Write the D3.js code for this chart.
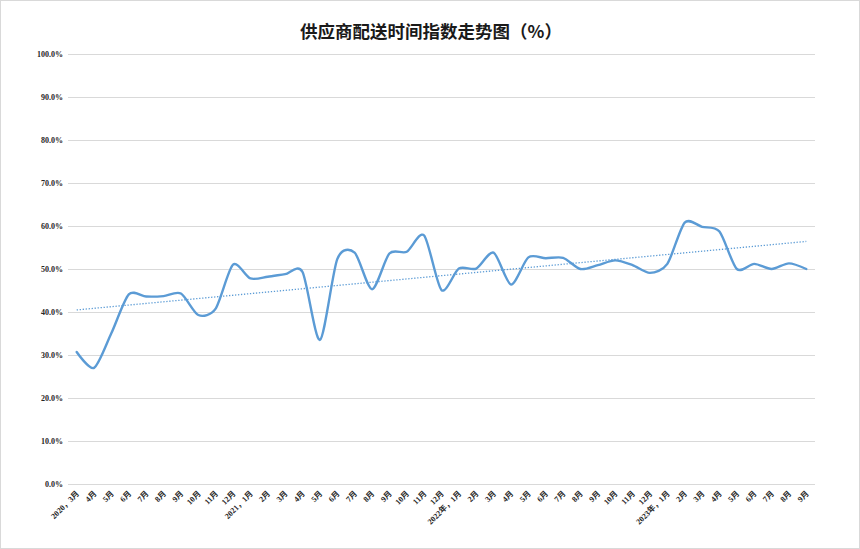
<!DOCTYPE html>
<html><head><meta charset="utf-8">
<script src="https://cdn.jsdelivr.net/npm/d3@7"></script>
<style>body{margin:0;background:#fff}svg{display:block}</style>
</head><body>
<svg id="chart" width="860" height="549"></svg>
<script>
const title = "供应商配送时间指数走势图（%）";
const categories = ["2020，3月","4月","5月","6月","7月","8月","9月","10月","11月","12月",
  "2021，1月","2月","3月","4月","5月","6月","7月","8月","9月","10月","11月","12月",
  "2022年，1月","2月","3月","4月","5月","6月","7月","8月","9月","10月","11月","12月",
  "2023年，1月","2月","3月","4月","5月","6月","7月","8月","9月"];
const values = [30.7,27.0,35.1,44.1,43.6,43.7,44.3,39.3,40.8,51.0,
  47.8,48.2,48.8,49.3,33.5,52.3,53.8,45.3,53.6,54.0,57.8,45.1,
  50.1,50.1,53.8,46.4,52.7,52.5,52.6,50.0,50.9,52.0,50.9,49.1,
  51.2,60.8,59.8,58.7,50.0,51.2,50.0,51.3,50.0];
const yTicks = [0,10,20,30,40,50,60,70,80,90,100];

(function(){
const svg = d3.select("#chart");
svg.append("rect").attr("x",0.5).attr("y",0.5).attr("width",859).attr("height",548)
  .attr("fill","#fff").attr("stroke","#d9d9d9");

const pLeft = 68, pRight = 815, pTop = 54, pBottom = 484;
const n = values.length;
const idx = d3.range(categories.length);
const x = d3.scaleBand().domain(idx).range([pLeft,pRight]);
const y = d3.scaleLinear().domain([0,100]).range([pBottom,pTop]);
const cx = i => x(i) + x.bandwidth()/2;

svg.append("text").attr("x",431).attr("y",38).attr("text-anchor","middle")
  .attr("font-family","'Noto Sans CJK SC'").attr("font-weight","bold").attr("font-size",17.5)
  .attr("fill","#1a1a1a").text(title);

svg.append("g").selectAll("line").data(yTicks).join("line")
  .attr("x1",pLeft).attr("x2",pRight).attr("y1",d=>Math.round(y(d))+0.5).attr("y2",d=>Math.round(y(d))+0.5)
  .attr("stroke","#d9d9d9").attr("stroke-width",1);

svg.append("g").selectAll("text").data(yTicks).join("text")
  .attr("x",63).attr("y",d=>y(d)+3).attr("text-anchor","end")
  .attr("font-family","'Liberation Serif'").attr("font-weight","bold").attr("font-size",8)
  .attr("fill","#262626").text(d=>d.toFixed(1)+"%");

svg.append("g").selectAll("text").data(idx).join("text")
  .attr("transform",i=>`translate(${cx(i)+3},${pBottom+10}) rotate(-45)`)
  .attr("text-anchor","end")
  .attr("font-family","'Liberation Serif','Noto Sans CJK SC'").attr("font-weight","bold").attr("font-size",8)
  .attr("fill","#262626").text(i=>categories[i]);

const xs = d3.range(n);
const mx = d3.mean(xs), my = d3.mean(values);
const slope = d3.sum(xs,i=>(i-mx)*(values[i]-my))/d3.sum(xs,i=>(i-mx)*(i-mx));
const icpt = my - slope*mx;
svg.append("line")
  .attr("x1",cx(0)).attr("y1",y(icpt))
  .attr("x2",cx(n-1)).attr("y2",y(icpt+slope*(n-1)))
  .attr("stroke","#5b9bd5").attr("stroke-width",1.3).attr("stroke-dasharray","1.3,1.7");

const line = d3.line().x((d,i)=>cx(i)).y(d=>y(d)).curve(d3.curveCardinal.tension(0.2));
svg.append("path").datum(values).attr("d",line).attr("fill","none")
  .attr("stroke","#5b9bd5").attr("stroke-width",2.4).attr("stroke-linejoin","round").attr("stroke-linecap","round");
})();
</script>
</body></html>
